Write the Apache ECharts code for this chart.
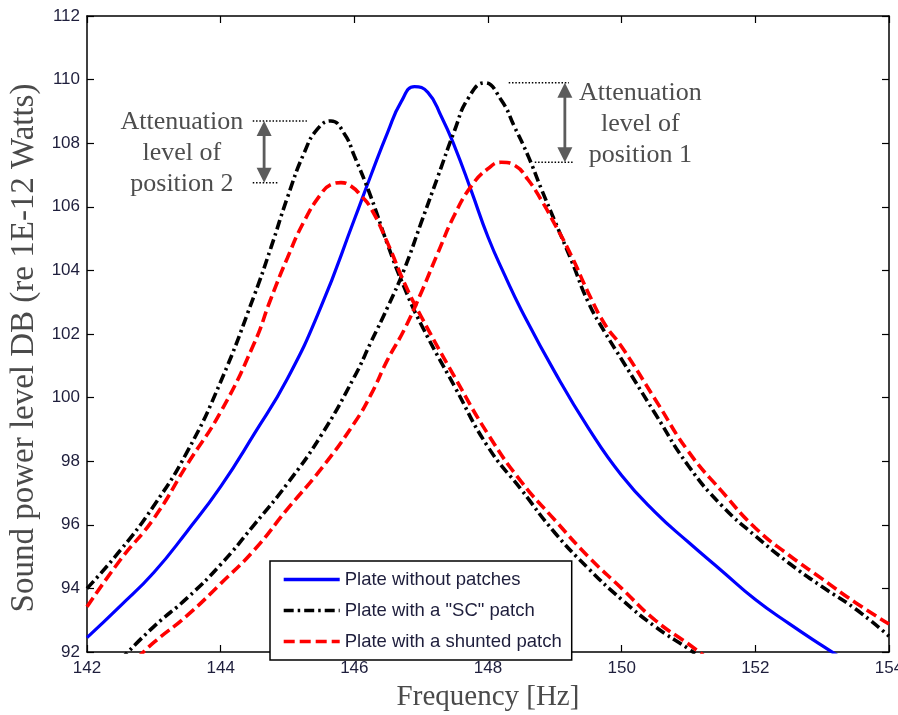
<!DOCTYPE html>
<html>
<head>
<meta charset="utf-8">
<script src="https://cdn.jsdelivr.net/npm/echarts@6/dist/echarts.min.js"></script>
<style>
  html, body { margin: 0; padding: 0; background: #fff; }
  #chart { width: 898px; height: 715px; }
</style>
</head>
<body>
<div id="chart"></div>
<script>
// Axis ranges and ticks
const freqTicks = [142, 144, 146, 148, 150, 152, 154];
const levelTicks = [92, 94, 96, 98, 100, 102, 104, 106, 108, 110, 112];

// Plate without patches
const bareFreq  = [142, 142.5, 143, 143.5, 144, 144.5, 145, 145.5, 146, 146.25, 146.5, 146.7, 146.9, 147.1, 147.3, 147.5, 147.75, 148, 148.25, 148.5, 149, 149.5, 150, 150.5, 151, 151.5, 152, 152.5, 153, 153.3];
const bareLevel = [92.45, 93.45, 94.5, 95.8, 97.2, 98.85, 100.6, 102.85, 105.6, 107.0, 108.35, 109.3, 109.78, 109.6, 108.85, 107.9, 106.5, 105.05, 103.85, 102.75, 100.8, 99.05, 97.55, 96.4, 95.45, 94.55, 93.65, 92.9, 92.2, 91.8];

// Short-circuited patch, position 2 (lower resonance)
const scPos2Freq  = [142, 142.5, 143, 143.5, 144, 144.5, 144.75, 145, 145.25, 145.45, 145.65, 145.85, 146, 146.25, 146.5, 146.75, 147, 147.5, 148, 148.5, 149, 149.5, 150, 150.5, 151, 151.1];
const scPos2Level = [94.0, 95.2, 96.6, 98.3, 100.5, 103.2, 104.7, 106.3, 107.7, 108.45, 108.7, 108.3, 107.6, 106.3, 104.8, 103.45, 102.3, 100.35, 98.45, 97.1, 95.75, 94.63, 93.65, 92.8, 92.1, 91.95];

// Short-circuited patch, position 1 (upper resonance)
const scPos1Freq  = [142.5, 143, 143.5, 144, 144.5, 145, 145.5, 146, 146.25, 146.5, 146.75, 147, 147.25, 147.5, 147.7, 147.95, 148.2, 148.4, 148.6, 148.8, 149, 149.25, 149.5, 149.75, 150, 150.5, 151, 151.5, 152, 152.5, 153, 153.5, 154];
const scPos1Level = [91.75, 92.8, 93.7, 94.75, 96.0, 97.3, 98.8, 100.65, 101.75, 102.85, 104.05, 105.5, 106.95, 108.4, 109.4, 109.9, 109.35, 108.5, 107.6, 106.55, 105.55, 104.3, 103.0, 102.05, 101.2, 99.5, 97.85, 96.6, 95.65, 94.8, 94.05, 93.35, 92.5];

// Shunted patch, position 2
const shPos2Freq  = [142, 142.5, 143, 143.5, 144, 144.5, 144.75, 145, 145.25, 145.5, 145.65, 145.8, 145.95, 146.1, 146.25, 146.5, 146.75, 147, 147.5, 148, 148.5, 149, 149.5, 150, 150.5, 151, 151.25];
const shPos2Level = [93.42, 94.9, 96.2, 97.9, 99.55, 101.7, 103.1, 104.4, 105.55, 106.4, 106.7, 106.76, 106.65, 106.35, 105.95, 104.85, 103.6, 102.55, 100.65, 98.85, 97.35, 96.15, 95.0, 94.0, 93.0, 92.25, 91.85];

// Shunted patch, position 1
const shPos1Freq  = [142.75, 143, 143.5, 144, 144.5, 145, 145.5, 146, 146.25, 146.5, 146.75, 147, 147.25, 147.5, 147.75, 148, 148.2, 148.4, 148.6, 148.8, 149, 149.25, 149.5, 149.75, 150, 150.5, 151, 151.5, 152, 152.5, 153, 153.5, 154];
const shPos1Level = [91.8, 92.3, 93.15, 94.15, 95.2, 96.5, 97.75, 99.2, 100.1, 101.2, 102.15, 103.3, 104.55, 105.75, 106.65, 107.2, 107.4, 107.3, 106.85, 106.2, 105.45, 104.45, 103.3, 102.3, 101.6, 99.95, 98.3, 97.05, 95.9, 95.05, 94.3, 93.55, 92.88];

// Legend names
const seriesNames = ['Plate without patches', 'Plate with a "SC" patch', 'Plate with a shunted patch'];

// Attenuation callouts: text lines, text anchor frequency, bracket frequencies
const notePos2Text = ['Attenuation', 'level of', 'position 2'];
const notePos1Text = ['Attenuation', 'level of', 'position 1'];
const notePos2TextFreq = 143.42;
const notePos1TextFreq = 150.28;
const notePos2Bracket = [144.48, 145.29, 144.48, 144.65, 144.87]; // top start, top end, bottom start, arrow, bottom end
const notePos1Bracket = [148.31, 149.21, 148.70, 149.15, 149.27];

const pairs = (xs, ys) => xs.map((x, i) => [x, ys[i]]);

const tickColor = '#1e1e3c';
const sansFont = '"Liberation Sans", Arial, sans-serif';
const serifFont = '"Liberation Serif", "Times New Roman", serif';

const axisCommon = {
  type: 'value',
  axisLine: { show: true, onZero: false, lineStyle: { color: '#000', width: 1.5 } },
  axisTick: { show: true, inside: true, length: 7, lineStyle: { color: '#000', width: 1.2 } },
  splitLine: { show: false }
};

const dashDot = [10, 4, 2.5, 4];
const dashed = [11, 5];

function lineSeries(name, data, color, type, width, z) {
  return {
    name: name,
    type: 'line',
    data: data,
    showSymbol: false,
    symbol: 'none',
    smooth: 0.5,
    clip: true,
    z: z,
    lineStyle: { color: color, width: width, type: type, cap: 'butt' },
    itemStyle: { color: color }
  };
}

const chart = echarts.init(document.getElementById('chart'), null, { renderer: 'canvas' });

const option = {
  animation: false,
  backgroundColor: '#fff',
  grid: { left: 87, right: 9, top: 16, bottom: 63, containLabel: false, outerBoundsMode: 'none' },
  legend: {
    data: seriesNames,
    orient: 'vertical',
    left: 270,
    top: 561,
    itemWidth: 56,
    itemHeight: 14,
    itemGap: 12,
    padding: [9, 10, 9, 12],
    borderColor: '#000',
    borderWidth: 1.5,
    borderRadius: 0,
    backgroundColor: '#fff',
    selectedMode: false,
    itemStyle: { opacity: 0 },
    lineStyle: { width: 3.4 },
    textStyle: { fontFamily: sansFont, fontSize: 18.5, color: tickColor }
  },
  xAxis: [
    Object.assign({}, axisCommon, {
      position: 'bottom',
      min: freqTicks[0], max: freqTicks[freqTicks.length - 1], interval: 2,
      axisLabel: { show: true, margin: 8, fontFamily: sansFont, fontSize: 17, color: tickColor },
      name: 'Frequency [Hz]',
      nameLocation: 'middle',
      nameGap: 31,
      nameTextStyle: { fontFamily: serifFont, fontSize: 29, color: '#4a4a4a' }
    }),
    Object.assign({}, axisCommon, {
      position: 'top',
      min: freqTicks[0], max: freqTicks[freqTicks.length - 1], interval: 2,
      axisLabel: { show: false }
    })
  ],
  yAxis: [
    Object.assign({}, axisCommon, {
      position: 'left',
      min: levelTicks[0], max: levelTicks[levelTicks.length - 1], interval: 2,
      axisLabel: { show: true, margin: 7, fontFamily: sansFont, fontSize: 17, color: tickColor },
      name: 'Sound power level DB (re 1E-12 Watts)',
      nameLocation: 'middle',
      nameGap: 42,
      nameTextStyle: { fontFamily: serifFont, fontSize: 33, color: '#4a4a4a', padding: [0, 28, 0, 0] }
    }),
    Object.assign({}, axisCommon, {
      position: 'right',
      min: levelTicks[0], max: levelTicks[levelTicks.length - 1], interval: 2,
      axisLabel: { show: false }
    })
  ],
  series: [
    lineSeries(seriesNames[0], pairs(bareFreq, bareLevel), '#0000ff', 'solid', 3.2, 2),
    lineSeries(seriesNames[1], pairs(scPos2Freq, scPos2Level), '#000000', dashDot, 3.6, 3),
    lineSeries(seriesNames[1], pairs(scPos1Freq, scPos1Level), '#000000', dashDot, 3.6, 3),
    lineSeries(seriesNames[2], pairs(shPos2Freq, shPos2Level), '#ff0000', dashed, 3.6, 4),
    lineSeries(seriesNames[2], pairs(shPos1Freq, shPos1Level), '#ff0000', dashed, 3.6, 4)
  ]
};

chart.setOption(option);

// Callout brackets: the gap between the SC peak and the shunted peak at each position
const toPx = (f, l) => chart.convertToPixel({ xAxisIndex: 0, yAxisIndex: 0 }, [f, l]);
const arrowColor = '#5c5c5c';

function dottedLine(f1, f2, level) {
  const a = toPx(f1, level), b = toPx(f2, level);
  return {
    type: 'line',
    z: 10,
    shape: { x1: a[0], y1: a[1], x2: b[0], y2: b[1] },
    style: { stroke: '#000', lineWidth: 1.5, lineDash: [1.5, 1.8] }
  };
}

function doubleArrow(f, top, bottom) {
  const t = toPx(f, top), b = toPx(f, bottom);
  const x = t[0], head = 15, half = 7.5;
  return [
    { type: 'line', z: 10, shape: { x1: x, y1: t[1] + head - 1, x2: x, y2: b[1] - head + 1 },
      style: { stroke: arrowColor, lineWidth: 2.8 } },
    { type: 'polygon', z: 10, shape: { points: [[x, t[1]], [x - half, t[1] + head], [x + half, t[1] + head]] },
      style: { fill: arrowColor } },
    { type: 'polygon', z: 10, shape: { points: [[x, b[1]], [x - half, b[1] - head], [x + half, b[1] - head]] },
      style: { fill: arrowColor } }
  ];
}

function noteText(lines, f, level) {
  const p = toPx(f, level);
  return {
    type: 'text',
    z: 10,
    x: p[0], y: p[1],
    style: {
      text: lines.join('\n'),
      font: '26px ' + serifFont,
      fill: '#4d4d4d',
      align: 'center',
      verticalAlign: 'middle',
      textAlign: 'center',
      textVerticalAlign: 'middle',
      lineHeight: 31
    }
  };
}

const pos2Top = Math.max.apply(null, scPos2Level);
const pos2Bottom = Math.max.apply(null, shPos2Level);
const pos1Top = Math.max.apply(null, scPos1Level);
const pos1Bottom = Math.max.apply(null, shPos1Level);

const graphics = [].concat(
  dottedLine(notePos2Bracket[0], notePos2Bracket[1], pos2Top),
  dottedLine(notePos2Bracket[2], notePos2Bracket[4], pos2Bottom),
  doubleArrow(notePos2Bracket[3], pos2Top, pos2Bottom),
  noteText(notePos2Text, notePos2TextFreq, (pos2Top + pos2Bottom) / 2 - 0.05),
  dottedLine(notePos1Bracket[0], notePos1Bracket[1], pos1Top),
  dottedLine(notePos1Bracket[2], notePos1Bracket[4], pos1Bottom),
  doubleArrow(notePos1Bracket[3], pos1Top, pos1Bottom),
  noteText(notePos1Text, notePos1TextFreq, (pos1Top + pos1Bottom) / 2 - 0.05)
);

chart.setOption({ graphic: graphics });
</script>
</body>
</html>
